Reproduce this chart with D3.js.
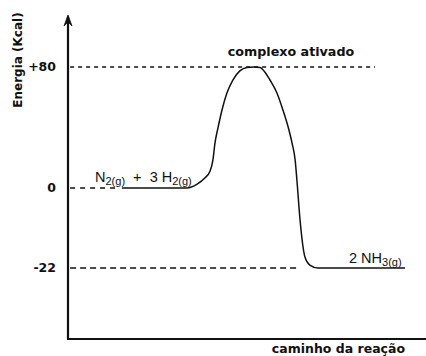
<!DOCTYPE html>
<html><head><meta charset="utf-8">
<script src="https://cdn.jsdelivr.net/npm/d3@7"></script>
<style>
html,body{margin:0;padding:0;background:#fff;}
svg{display:block;}
</style></head>
<body>
<script>
// Energy tick values (kcal) and labels
const tickValues = [80, 0, -22];
const tickLabels = ["+80", "0", "-22"];
// Reaction path: reaction coordinate (0-100) and energy (kcal)
const pathX = [15.4, 34, 36.9, 39.1, 40.6, 41.4, 42, 42.9, 44, 45.4, 47.1, 49.1, 51.1, 53.1, 54.9, 56, 57.7, 59.7, 61.4, 62.9, 64.0, 64.9, 65.4, 66.3, 67.7, 69.1, 71.4, 96.3];
const pathE = [0, 0, 2.6, 6.6, 11.2, 18.5, 29.8, 40.3, 51.6, 62.8, 71.4, 77.4, 79.7, 80, 79.7, 77.4, 71.4, 62.8, 51.6, 40.3, 29.8, 18.5, 5.3, -8.8, -19, -21.2, -22, -22];
// Guide lines: [start, end] reaction coordinate for each level
const guideLevels = [80, 0, -22];
const guideEnds = [[0.6, 87.7], [0.6, 14], [0.6, 66]];

const W = 426, H = 356;
const svg = d3.select("body").append("svg").attr("width", W).attr("height", H);

const x = d3.scaleLinear().domain([0, 100]).range([68, 418]);
// schematic (piecewise) energy axis
const y = d3.scaleLinear().domain([-41, -22, 0, 80, 114]).range([339, 268, 188, 67, 15]);

const ink = "#111";

// guide lines
const dashes = ["4,4", "5,5", "6,4"];
guideLevels.forEach((lv, i) => {
  svg.append("line")
    .attr("x1", x(guideEnds[i][0])).attr("x2", x(guideEnds[i][1]))
    .attr("y1", y(lv)).attr("y2", y(lv))
    .attr("stroke", ink).attr("stroke-width", 1.3)
    .attr("stroke-dasharray", dashes[i]);
});

// reaction path
const pts = pathX.map((v, i) => [v, pathE[i]]);
const line = d3.line().x(d => x(d[0])).y(d => y(d[1])).curve(d3.curveMonotoneX);
svg.append("path").attr("d", line(pts))
  .attr("fill", "none").attr("stroke", ink).attr("stroke-width", 1.5);

// axes
svg.append("line").attr("x1", x(0)).attr("x2", x(0)).attr("y1", y(-41)).attr("y2", y(113))
  .attr("stroke", ink).attr("stroke-width", 2.2);
svg.append("line").attr("x1", x(0) - 1).attr("x2", W).attr("y1", y(-41)).attr("y2", y(-41))
  .attr("stroke", ink).attr("stroke-width", 2.2);
// arrow head
svg.append("path")
  .attr("d", `M${x(0)-4},${y(114)+11} L${x(0)},${y(114)} L${x(0)+4},${y(114)+11} L${x(0)},${y(114)+7} Z`)
  .attr("fill", ink).attr("stroke", ink).attr("stroke-width", 0.8);

// tick labels
svg.selectAll("text.tick").data(tickValues).enter().append("text")
  .attr("x", 56).attr("y", d => y(d)).attr("dy", "0.35em")
  .attr("text-anchor", "end")
  .attr("font-family", "DejaVu Sans, Verdana, sans-serif")
  .attr("font-weight", "bold").attr("font-size", 12.5)
  .attr("fill", ink)
  .text((d, i) => tickLabels[i]);

// axis titles
svg.append("text")
  .attr("transform", `translate(22,60) rotate(-90)`)
  .attr("text-anchor", "middle")
  .attr("font-family", "DejaVu Sans, Verdana, sans-serif")
  .attr("font-weight", "bold").attr("font-size", 12).attr("fill", ink)
  .text("Energia (Kcal)");
svg.append("text")
  .attr("x", 405).attr("y", 353).attr("text-anchor", "end")
  .attr("font-family", "DejaVu Sans, Verdana, sans-serif")
  .attr("font-weight", "bold").attr("font-size", 12.5).attr("fill", ink)
  .text("caminho da reação");
svg.append("text")
  .attr("x", 291).attr("y", 56).attr("text-anchor", "middle")
  .attr("font-family", "DejaVu Sans, Verdana, sans-serif")
  .attr("font-weight", "bold").attr("font-size", 12.7).attr("fill", ink)
  .text("complexo ativado");

// species labels with subscripts
function chem(xp, yp, parts) {
  const t = svg.append("text").attr("x", xp).attr("y", yp)
    .attr("font-family", "Liberation Sans, Arial, sans-serif")
    .attr("font-size", 14.5).attr("fill", ink)
    .attr("xml:space", "preserve").style("white-space", "pre");
  parts.forEach(p => {
    const ts = t.append("tspan").text(p[0]);
    if (p[1]) ts.attr("font-size", 11).attr("dy", 3);
    else if (p[2]) ts.attr("dy", -3);
  });
  return t;
}
chem(95, 182, [["N"], ["2(g)", true], ["  +  3 H", false, true], ["2(g)", true]]);
chem(349, 263, [["2 NH"], ["3(g)", true]]);
</script>
</body></html>
